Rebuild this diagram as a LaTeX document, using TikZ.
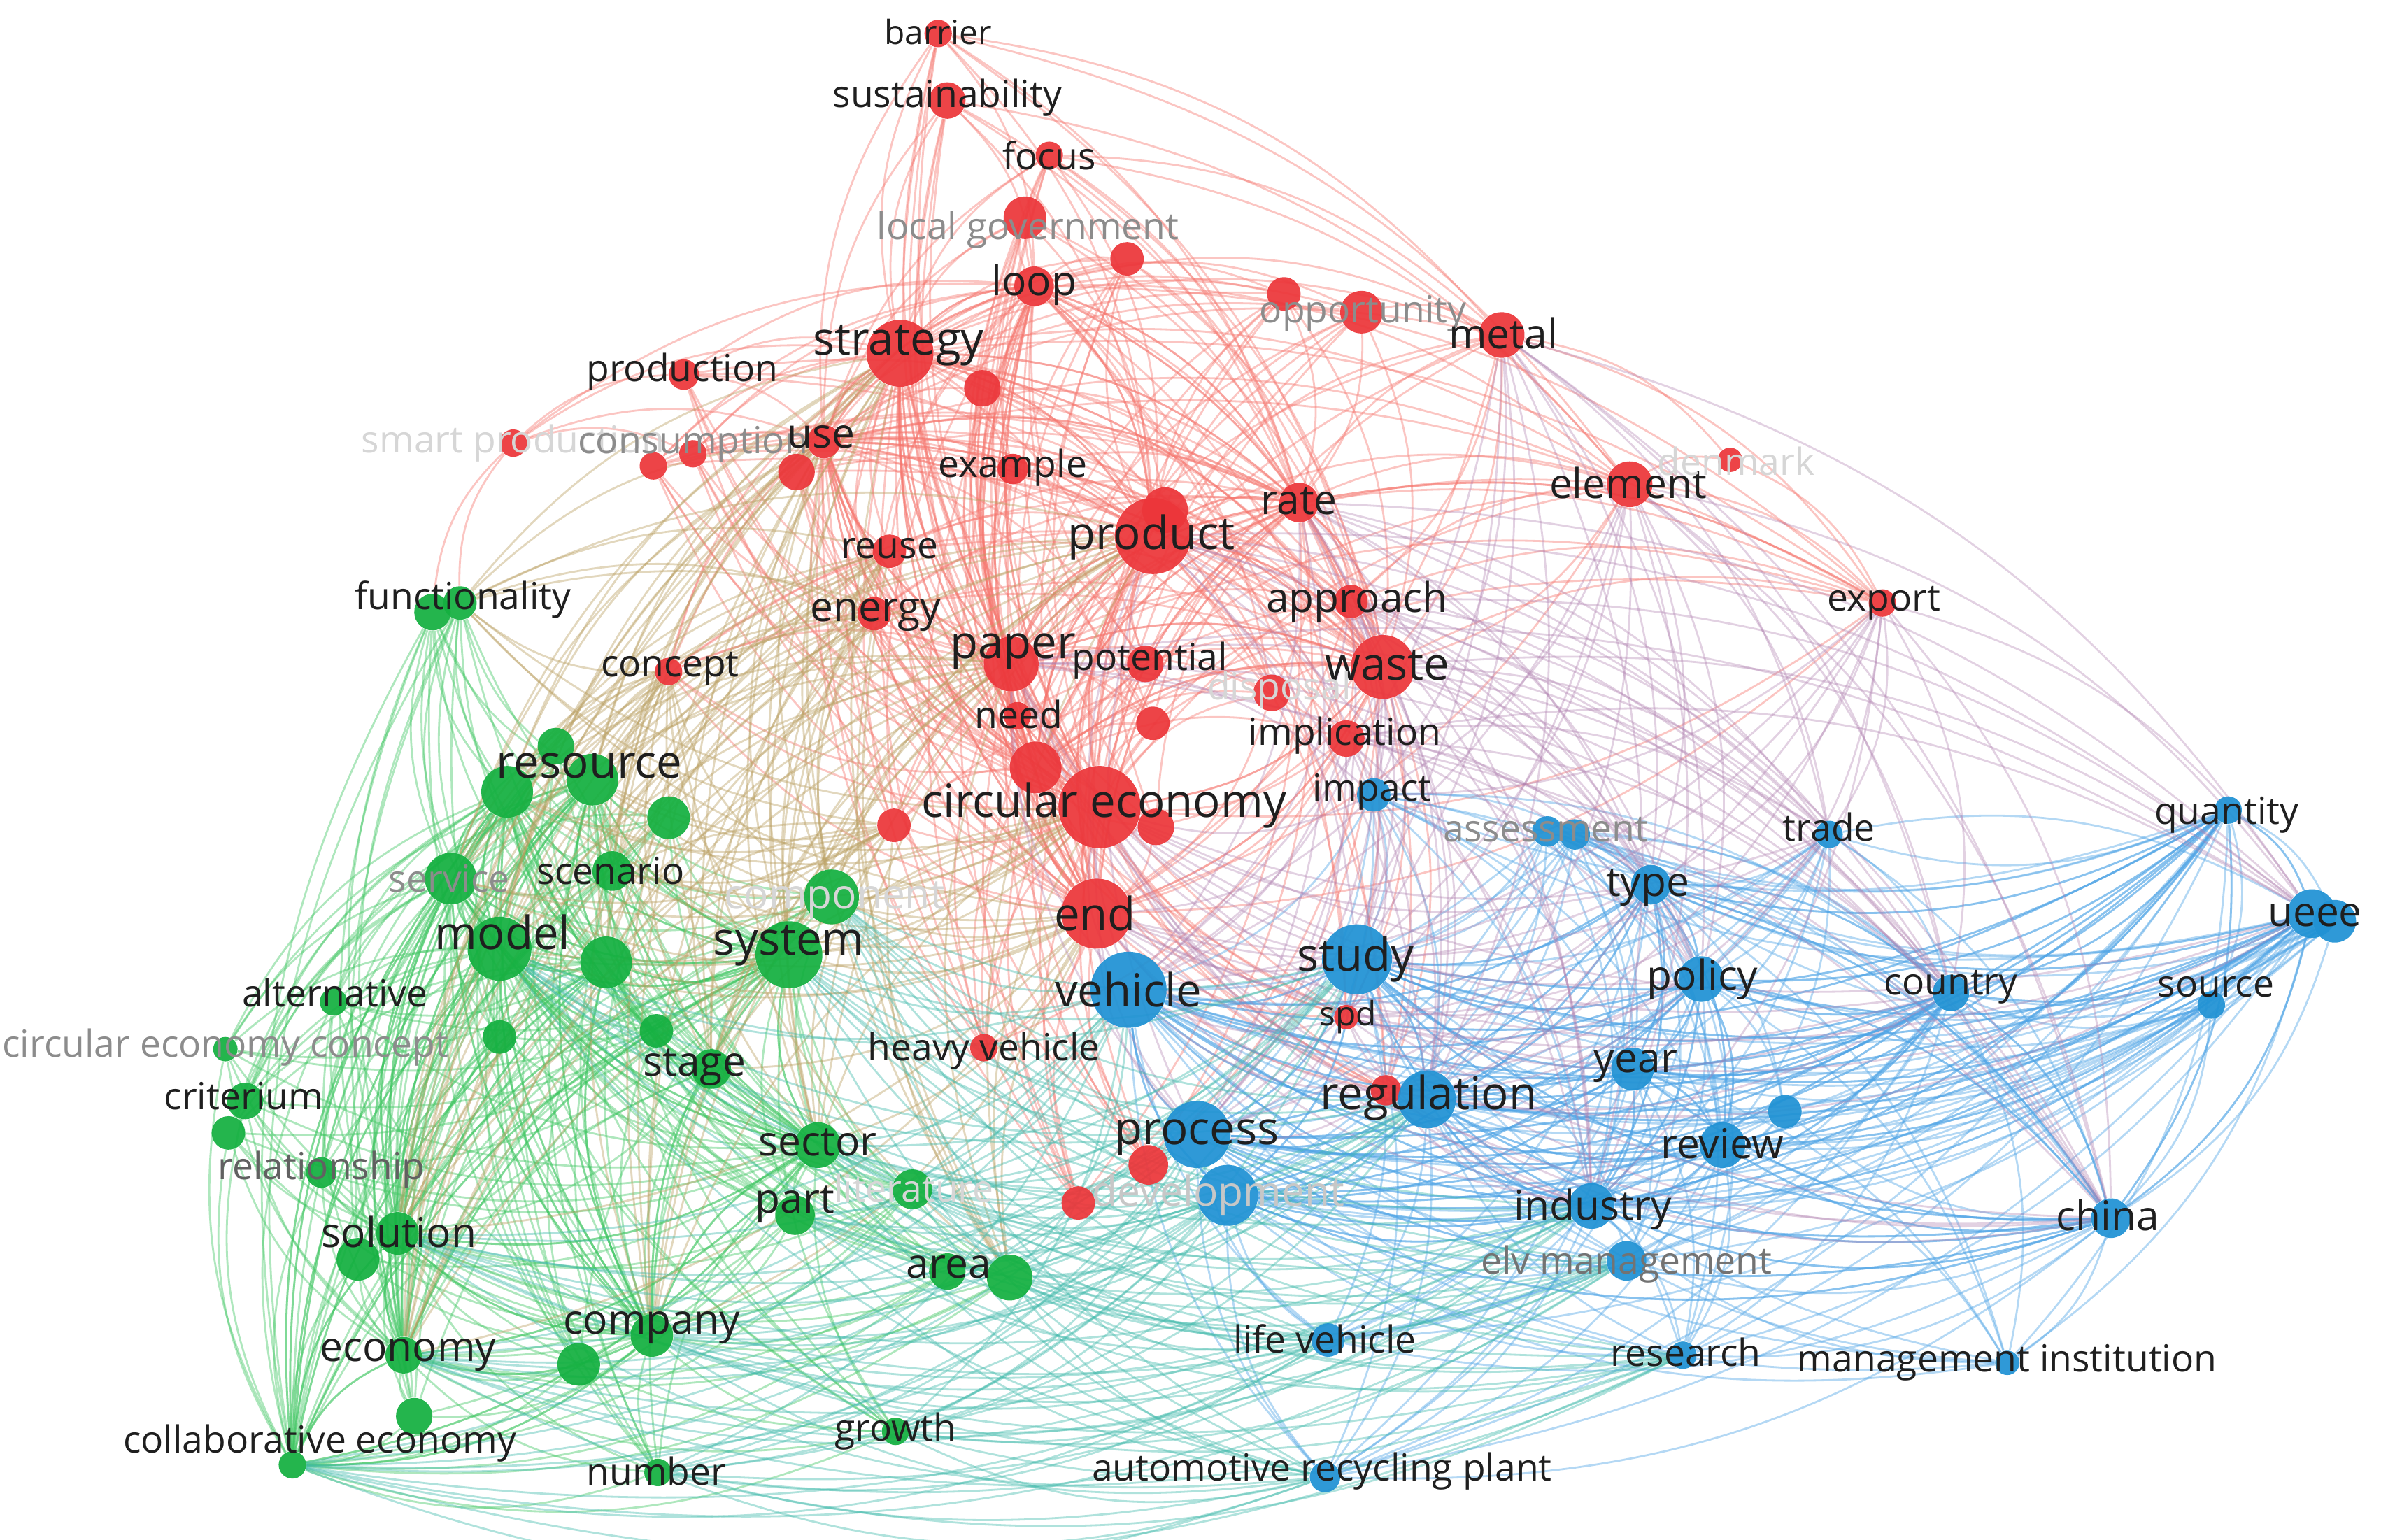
\documentclass[tikz,border=0pt]{standalone}
\usepackage{fontspec}
\setmainfont{Open Sans}
\usetikzlibrary{calc}
\definecolor{kwred}{RGB}{236,54,58}
\definecolor{kwgreen}{RGB}{20,176,64}
\definecolor{kwblue}{RGB}{32,146,212}
\definecolor{lnkred}{RGB}{246,118,110}
\definecolor{lnkgreen}{RGB}{64,198,98}
\definecolor{lnkblue}{RGB}{78,164,230}
\definecolor{lnkrg}{RGB}{186,160,98}
\definecolor{lnkrb}{RGB}{176,128,176}
\definecolor{lnkgb}{RGB}{66,186,172}
\pgfdeclarelayer{edges}
\pgfdeclarelayer{labels}
\pgfsetlayers{edges,main,labels}
\tikzset{
  dot/.style={circle, draw=none, inner sep=0pt, fill opacity=0.93},
  kwXL/.style={inner sep=0pt, text=black!88, font=\fontsize{18.6}{20}\selectfont},
  kwL/.style={inner sep=0pt, text=black!88, font=\fontsize{16.7}{18}\selectfont},
  kwM/.style={inner sep=0pt, text=black!88, font=\fontsize{15.2}{17}\selectfont},
  kwS/.style={inner sep=0pt, text=black!88, font=\fontsize{13.6}{15}\selectfont},
  dim/.style={text=black!45},
  ghost/.style={text=black!16},
  link/.style={line width=0.8pt, draw opacity=0.42},
  lnR/.style={link, draw=lnkred},
  lnG/.style={link, draw=lnkgreen},
  lnB/.style={link, draw=lnkblue},
  lnRG/.style={link, draw=lnkrg},
  lnRB/.style={link, draw=lnkrb, draw opacity=0.36},
  lnGB/.style={link, draw=lnkgb}
}

\begin{document}
\begin{tikzpicture}[x=0.021773cm, y=-0.021773cm]
\newcommand{\kw}[7]{%
  \node[dot, fill=#4, minimum size={#3*0.43546mm}] (#1) at (#2) {};
  \begin{pgfonlayer}{labels}
    \node[#7] (#1-l) at (#6) {#5};
  \end{pgfonlayer}}
\newcommand{\dotkw}[4]{%
  \node[dot, fill=#4, minimum size={#3*0.43546mm}] (#1) at (#2) {};}
% a link bulges away from the middle of the map
\newcommand{\lnk}[3]{%
  \draw[#1] let \p1=(#2), \p2=(#3),
    \n1={((\y1-\y2)/100)*((\x1+\x2)/200-4.832)+((\x2-\x1)/100)*((\y1+\y2)/200+3.098)},
    \n2={ifthenelse(\n1>0,20,-20)}, \n3={ifthenelse(\n1>0,160,200)}
    in (#2) to[out=\n2, in=\n3, relative] (#3);}

\useasboundingbox (0,0) rectangle (1568,1011);

% red cluster
\kw{barrier}{616,22}{9}{kwred}{barrier}{616,21}{kwS}
\kw{sust}{622,66}{12}{kwred}{sustainability}{622,64}{kwM}
\kw{focus}{689,102}{9}{kwred}{focus}{689,102}{kwM}
\kw{locgov}{673,143}{14}{kwred}{local government}{675,151}{kwM,dim}
\dotkw{rA}{740,170}{11}{kwred}
\kw{loop}{679,188}{13}{kwred}{loop}{679,187}{kwL}
\kw{strategy}{591,232}{22}{kwred}{strategy}{590,227}{kwXL}
\dotkw{rB}{645,255}{12}{kwred}
\kw{production}{449,246}{10}{kwred}{production}{448,244}{kwM}
\kw{smartprod}{337,291}{9}{kwred}{smart production}{337,291}{kwM,ghost}
\dotkw{rC}{429,306}{9}{kwred}
\kw{consumption}{455,298}{9}{kwred}{consumption}{455,292}{kwM,dim}
\kw{use}{541,290}{11}{kwred}{use}{539,287}{kwL}
\dotkw{rD}{523,310}{12}{kwred}
\kw{example}{665,308}{10}{kwred}{example}{665,307}{kwM}
\dotkw{rE}{765,335}{15}{kwred}
\kw{product}{757,352}{25}{kwred}{product}{756,353}{kwXL}
\kw{rate}{853,330}{13}{kwred}{rate}{853,329}{kwL}
\dotkw{rF}{843,193}{11}{kwred}
\kw{opport}{894,205}{14}{kwred}{opportunity}{895,206}{kwM,dim}
\kw{metal}{986,220}{15}{kwred}{metal}{987,219}{kwL}
\kw{element}{1070,318}{15}{kwred}{element}{1069,317}{kwL}
\kw{denmark}{1136,302}{8}{kwred}{denmark}{1140,303}{kwM,ghost}
\kw{export}{1236,396}{9}{kwred}{export}{1237,396}{kwM}
\kw{reuse}{584,362}{11}{kwred}{reuse}{584,360}{kwM}
\kw{energy}{574,403}{11}{kwred}{energy}{575,404}{kwL}
\kw{approach}{887,395}{11}{kwred}{approach}{891,395}{kwL}
\kw{waste}{908,438}{21}{kwred}{waste}{911,437}{kwXL}
\kw{paper}{664,436}{18}{kwred}{paper}{665,428}{kwXL}
\kw{potential}{752,436}{12}{kwred}{potential}{755,434}{kwM}
\dotkw{rG}{757,475}{11}{kwred}
\kw{disposal}{835,455}{12}{kwred}{disposal}{840,453}{kwM,ghost}
\kw{implication}{884,485}{12}{kwred}{implication}{883,483}{kwM}
\kw{need}{668,470}{9}{kwred}{need}{669,469}{kwM}
\dotkw{rH}{680,504}{17}{kwred}
\kw{ce}{722,530}{27}{kwred}{circular economy}{725,529}{kwXL}
\dotkw{rI}{759,543}{12}{kwred}
\dotkw{rJ}{587,542}{11}{kwred}
\kw{concept}{439,441}{9}{kwred}{concept}{440,439}{kwM}
\kw{endkw}{720,600}{23}{kwred}{end}{719,600}{kwXL}
\kw{spd}{884,668}{8}{kwred}{spd}{885,668}{kwS}
\kw{heavy}{646,688}{9}{kwred}{heavy vehicle}{646,690}{kwM}
\dotkw{rK}{910,716}{10}{kwred}
\dotkw{rL}{754,765}{13}{kwred}
\dotkw{rM}{708,790}{11}{kwred}

% green cluster
\dotkw{func1}{284,402}{12}{kwgreen}
\kw{func2}{302,396}{11}{kwgreen}{functionality}{304,394}{kwM}
\dotkw{res3}{365,490}{12}{kwgreen}
\dotkw{res1}{333,520}{17}{kwgreen}
\kw{res2}{389,512}{17}{kwgreen}{resource}{387,503}{kwXL}
\dotkw{gA}{439,537}{14}{kwgreen}
\kw{service}{296,577}{17}{kwgreen}{service}{295,577}{kwM,dim}
\kw{scenario}{402,572}{13}{kwgreen}{scenario}{401,572}{kwM}
\kw{component}{546,589}{18}{kwgreen}{component}{548,591}{kwL,ghost}
\kw{model}{328,623}{21}{kwgreen}{model}{330,612}{kwXL}
\dotkw{gB}{398,632}{17}{kwgreen}
\kw{system}{518,627}{22}{kwgreen}{system}{518,621}{kwXL}
\dotkw{gC}{328,681}{11}{kwgreen}
\dotkw{gD}{431,677}{11}{kwgreen}
\kw{stage}{467,702}{13}{kwgreen}{stage}{456,701}{kwL}
\kw{alt}{219,658}{9}{kwgreen}{alternative}{220,652}{kwM}
\kw{cecon}{148,689}{8}{kwgreen}{circular economy concept}{148,688}{kwM,dim}
\dotkw{crit2}{150,744}{11}{kwgreen}
\kw{crit1}{161,723}{12}{kwgreen}{criterium}{160,720}{kwM}
\kw{relation}{211,770}{10}{kwgreen}{relationship}{211,768}{kwM,text=black!62}
\dotkw{sol2}{235,827}{14}{kwgreen}
\kw{sol1}{261,810}{14}{kwgreen}{solution}{262,809}{kwL}
\kw{sector}{537,752}{15}{kwgreen}{sector}{537,750}{kwL}
\kw{part}{522,798}{13}{kwgreen}{part}{522,791}{kwL}
\kw{lit}{599,781}{13}{kwgreen}{literature}{600,780}{kwM,ghost}
\dotkw{area2}{663,839}{15}{kwgreen}
\kw{area1}{622,835}{12}{kwgreen}{area}{623,832}{kwL}
\dotkw{comp2}{380,896}{14}{kwgreen}
\kw{comp1}{428,877}{14}{kwgreen}{company}{428,872}{kwL}
\kw{econ}{265,890}{12}{kwgreen}{economy}{268,890}{kwL}
\dotkw{collab2}{272,930}{12}{kwgreen}
\kw{collab1}{192,962}{9}{kwgreen}{collaborative economy}{210,948}{kwM}
\kw{number}{432,967}{9}{kwgreen}{number}{431,966}{kwM}
\kw{growth}{588,940}{9}{kwgreen}{growth}{588,940}{kwM}

% blue cluster
\kw{impact}{902,522}{11}{kwblue}{impact}{901,520}{kwM}
\dotkw{assess2}{1034,548}{10}{kwblue}
\kw{assess1}{1016,546}{10}{kwblue}{assessment}{1015,545}{kwM,dim}
\kw{type}{1084,581}{13}{kwblue}{type}{1082,583}{kwL}
\kw{trade}{1201,548}{9}{kwblue}{trade}{1201,543}{kwM}
\kw{quantity}{1463,532}{9}{kwblue}{quantity}{1462,535}{kwM}
\dotkw{ueee2}{1533,605}{14}{kwblue}
\kw{ueee1}{1518,600}{16}{kwblue}{ueee}{1520,601}{kwL}
\kw{source}{1452,660}{9}{kwblue}{source}{1455,648}{kwM}
\kw{country}{1281,652}{12}{kwblue}{country}{1281,648}{kwM}
\kw{policy}{1117,643}{15}{kwblue}{policy}{1118,643}{kwL}
\kw{study}{891,630}{23}{kwblue}{study}{890,630}{kwXL}
\kw{vehicle}{741,650}{25}{kwblue}{vehicle}{741,650}{kwXL}
\kw{devel}{806,785}{20}{kwblue}{development}{800,785}{kwL,text=black!22}
\kw{process}{786,745}{22}{kwblue}{process}{786,747}{kwXL}
\kw{regul}{937,722}{19}{kwblue}{regulation}{938,721}{kwXL}
\kw{year}{1072,702}{14}{kwblue}{year}{1074,700}{kwL}
\dotkw{bA}{1172,730}{11}{kwblue}
\kw{review}{1131,752}{15}{kwblue}{review}{1131,751}{kwL}
\kw{industry}{1045,792}{15}{kwblue}{industry}{1046,794}{kwL}
\kw{elv}{1068,828}{13}{kwblue}{elv management}{1068,830}{kwM,text=black!55}
\kw{china}{1386,800}{13}{kwblue}{china}{1384,798}{kwL}
\kw{research}{1105,890}{9}{kwblue}{research}{1107,888}{kwM}
\kw{mgmt}{1318,895}{8}{kwblue}{management institution}{1318,895}{kwM}
\kw{lifeveh}{872,880}{11}{kwblue}{life vehicle}{870,879}{kwM}
\kw{autorec}{870,970}{10}{kwblue}{automotive recycling plant}{868,966}{kwM}

\begin{pgfonlayer}{edges}
\fill[white] (0,0) rectangle (1568,1011);
% links inside the clusters
\foreach \s in {ce,product,strategy,paper,waste,endkw,loop,rH,use,rate}
  \foreach \t in {barrier,sust,focus,locgov,rA,loop,strategy,rB,production,rC,consumption,use,rD,example,product,rE,rate,rF,opport,metal,element,export,reuse,energy,approach,waste,paper,potential,rG,disposal,implication,need,rH,ce,rI,rJ,concept,endkw,spd,heavy,rK,rL,rM}
    {\ifx\s\t\else\lnk{lnR}{\s}{\t}\fi}
\foreach \s/\t in {barrier/metal,barrier/element,focus/metal,focus/element,sust/element,metal/export,element/export,element/denmark,metal/denmark,export/denmark,export/approach,export/rate,element/approach,metal/approach,metal/opport,smartprod/func1,smartprod/func2,smartprod/use,smartprod/consumption,smartprod/strategy,smartprod/production,smartprod/loop}
  {\lnk{lnR}{\s}{\t}}
\foreach \s in {model,system,res1,res2,comp1,sol1,gB,service,econ,sector,collab1}
  \foreach \t in {func1,func2,res1,res2,res3,gA,service,scenario,component,model,gB,system,gC,gD,stage,alt,cecon,crit1,crit2,relation,sol1,sol2,sector,part,lit,area1,area2,comp1,comp2,econ,collab1,collab2,number,growth}
    {\ifx\s\t\else\lnk{lnG}{\s}{\t}\fi}
\foreach \s in {vehicle,study,process,regul,devel,industry,policy,type,ueee1,china,year,review,country,quantity}
  \foreach \t in {impact,assess1,assess2,type,trade,quantity,ueee1,ueee2,source,country,policy,study,vehicle,process,devel,regul,year,review,bA,industry,elv,china,research,mgmt,lifeveh,autorec}
    {\ifx\s\t\else\lnk{lnB}{\s}{\t}\fi}
% links between the clusters
\foreach \s in {ce,product,strategy,paper,endkw,use,energy,concept,reuse,rJ}
  \foreach \t in {model,system,res1,res2,func2,service,scenario,component,gB,stage,sector,area2,comp1,sol1,econ}
    {\lnk{lnRG}{\s}{\t}}
\foreach \s in {ce,endkw,product,waste,paper,element,metal,export,implication,rate,approach,spd,rK}
  \foreach \t in {vehicle,study,process,regul,type,ueee1,policy,industry,country,impact,china,trade}
    {\lnk{lnRB}{\s}{\t}}
\foreach \s in {system,sector,area2,comp1,growth,number,collab1,part,econ,component,lit,model,sol1}
  \foreach \t in {vehicle,process,devel,study,regul,lifeveh,industry,elv,autorec,research}
    {\lnk{lnGB}{\s}{\t}}
\end{pgfonlayer}
\end{tikzpicture}
\end{document}
